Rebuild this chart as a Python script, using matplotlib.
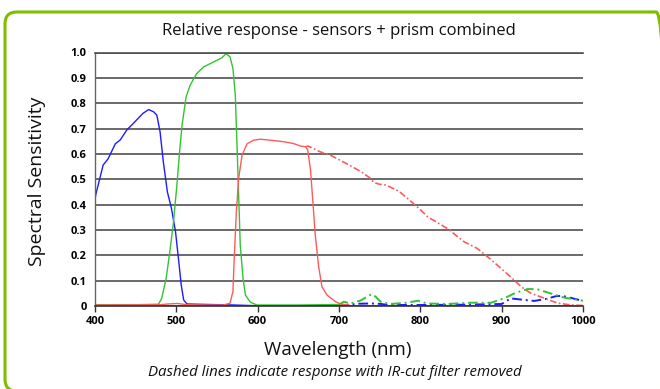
"""Relative spectral response of the three sensors + prism, solid with the
IR-cut filter in place, dash-dot where the filter is removed."""
import matplotlib
matplotlib.use("Agg")

import matplotlib.pyplot as plt
from matplotlib.patches import FancyBboxPatch

# ---------- data ----------
blue_nm = [400, 401, 410, 416, 425, 431, 439, 447, 459, 466, 472, 476, 480,
           484, 489, 494, 499, 503, 506, 509, 513, 540, 570, 600, 650, 700]
blue_val = [0.42, 0.44, 0.556, 0.58, 0.64, 0.655, 0.694, 0.72, 0.76, 0.775,
            0.766, 0.753, 0.687, 0.569, 0.45, 0.385, 0.293, 0.175, 0.083,
            0.024, 0.008, 0.006, 0.004, 0.001, 0.001, 0.002]

blue_ir_nm = [700, 715, 725, 740, 752, 760, 800, 850, 900, 906, 911, 925, 940,
              955, 967, 975, 1000]
blue_ir_val = [0.002, 0.006, 0.009, 0.01, 0.008, 0.004, 0.004, 0.005, 0.008,
               0.02, 0.03, 0.025, 0.02, 0.028, 0.039, 0.04, 0.02]

green_nm = [400, 450, 478, 482, 487.5, 492, 496.5, 500.7, 504, 507, 512, 517,
            525, 533.5, 546, 556, 561, 566, 569.6, 572.5, 574.6, 576.6, 578.6,
            582, 585, 591, 599, 650, 700]
green_val = [0.005, 0.005, 0.007, 0.03, 0.109, 0.214, 0.332, 0.477, 0.608,
             0.713, 0.825, 0.871, 0.917, 0.943, 0.963, 0.979, 0.995, 0.983,
             0.937, 0.832, 0.635, 0.438, 0.24, 0.109, 0.043, 0.015, 0.004,
             0.004, 0.006]

green_ir_nm = [700, 706, 714, 726, 735, 740, 745, 751, 763, 784, 797, 808,
               833, 862, 887, 903, 917, 932, 944, 960, 977, 1000]
green_ir_val = [0.006, 0.017, 0.01, 0.021, 0.037, 0.047, 0.037, 0.017, 0.008,
                0.013, 0.021, 0.01, 0.008, 0.013, 0.013, 0.03, 0.052, 0.067,
                0.066, 0.05, 0.033, 0.021]

red_nm = [400, 480, 490, 501, 513, 540, 558, 566, 569.6, 571, 573.8, 576.6,
          580.8, 587, 595, 603, 616, 632, 644, 652.6, 658.8, 661.6, 665, 668,
          671, 675, 679, 685.4, 695.7, 702, 712]
red_val = [0.004, 0.005, 0.008, 0.01, 0.005, 0.004, 0.004, 0.011, 0.057,
           0.175, 0.372, 0.503, 0.595, 0.64, 0.654, 0.658, 0.654, 0.648,
           0.641, 0.631, 0.628, 0.615, 0.536, 0.405, 0.273, 0.155, 0.076,
           0.043, 0.017, 0.008, 0.004]

red_ir_nm = [658.8, 662, 677, 690, 712, 728, 738, 743, 750, 758, 774, 788,
             800, 809, 833, 854, 870, 885, 899, 913, 924, 936, 953, 969, 986,
             1000]
red_ir_val = [0.628, 0.631, 0.608, 0.594, 0.557, 0.528, 0.505, 0.487, 0.48,
              0.477, 0.452, 0.414, 0.38, 0.352, 0.306, 0.253, 0.227, 0.188,
              0.149, 0.109, 0.076, 0.05, 0.03, 0.011, 0.004, 0.002]

x_ticks = [400, 500, 600, 700, 800, 900, 1000]
y_ticks = [0, 0.1, 0.2, 0.3, 0.4, 0.5, 0.6, 0.7, 0.8, 0.9, 1.0]
y_tick_labels = ["0", "0.1", "0.2", "0.3", "0.4", "0.5", "0.6", "0.7", "0.8",
                 "0.9", "1.0"]

# ---------- style ----------
BLUE = "#1c1cff"
GREEN = "#33c333"
RED = "#ff5a5a"
GRID = "#505050"
BORDER = "#80bc00"
DASH = (0, (5, 2, 1, 2))

plt.rcParams["font.family"] = ["Open Sans", "DejaVu Sans"]

W, H, DPI = 660, 389, 100
fig = plt.figure(figsize=(W / DPI, H / DPI), dpi=DPI)
fig.patch.set_facecolor("white")

# rounded green frame; its right and bottom edges run off the canvas
fig.add_artist(FancyBboxPatch((5 / W, 1 - 391 / H), 663 / W, 379 / H,
                              boxstyle="round,pad=0,rounding_size=0.018",
                              transform=fig.transFigure, fill=False,
                              edgecolor=BORDER, linewidth=2.2,
                              mutation_aspect=W / H, clip_on=False))

ax = fig.add_axes((95 / W, 1 - 306 / H, 488 / W, 253.5 / H))
ax.set_xlim(400, 1000)
ax.set_ylim(0, 1.0)

ax.set_yticks(y_ticks)
ax.set_yticklabels(y_tick_labels)
ax.set_xticks(x_ticks)
ax.grid(axis="y", color=GRID, linewidth=1.2)
ax.set_axisbelow(True)

ax.spines["right"].set_visible(False)
ax.spines["top"].set_color(GRID)
ax.spines["top"].set_linewidth(1.2)
ax.spines["left"].set_color("#666666")
ax.spines["left"].set_linewidth(1.0)
ax.spines["bottom"].set_color("#333333")
ax.spines["bottom"].set_linewidth(1.2)

ax.tick_params(axis="y", length=0, pad=6, labelsize=8)
ax.tick_params(axis="x", length=4, width=1, color="#333333", pad=3,
               labelsize=8)
for lab in ax.get_xticklabels() + ax.get_yticklabels():
    lab.set_fontweight("bold")

# IR-cut removed (dash-dot) first, so the solid curves sit on top
ax.plot(blue_ir_nm, blue_ir_val, color=BLUE, lw=1.4, linestyle=DASH)
ax.plot(red_ir_nm, red_ir_val, color=RED, lw=1.2, linestyle=(0, (4, 1.5, 1, 1.5)))
ax.plot(green_ir_nm, green_ir_val, color=GREEN, lw=1.4, linestyle=DASH)

ax.plot(blue_nm, blue_val, color=BLUE, lw=1.0)
ax.plot(green_nm, green_val, color=GREEN, lw=1.0)
ax.plot(red_nm, red_val, color=RED, lw=1.0)

fig.text(339 / W, 1 - 31 / H, "Relative response - sensors + prism combined",
         ha="center", va="center", fontsize=12, color="#111111")
fig.text(37 / W, 1 - 181 / H, "Spectral Sensitivity", rotation=90,
         ha="center", va="center", fontsize=14, color="#111111")
fig.text(338 / W, 1 - 350 / H, "Wavelength (nm)",
         ha="center", va="center", fontsize=13.5, color="#111111")
fig.text(335 / W, 1 - 373 / H,
         "Dashed lines indicate response with IR-cut filter removed",
         ha="center", va="center", fontsize=10.8, style="italic",
         color="#111111")

fig.savefig("out.png", dpi=DPI, facecolor="white")
